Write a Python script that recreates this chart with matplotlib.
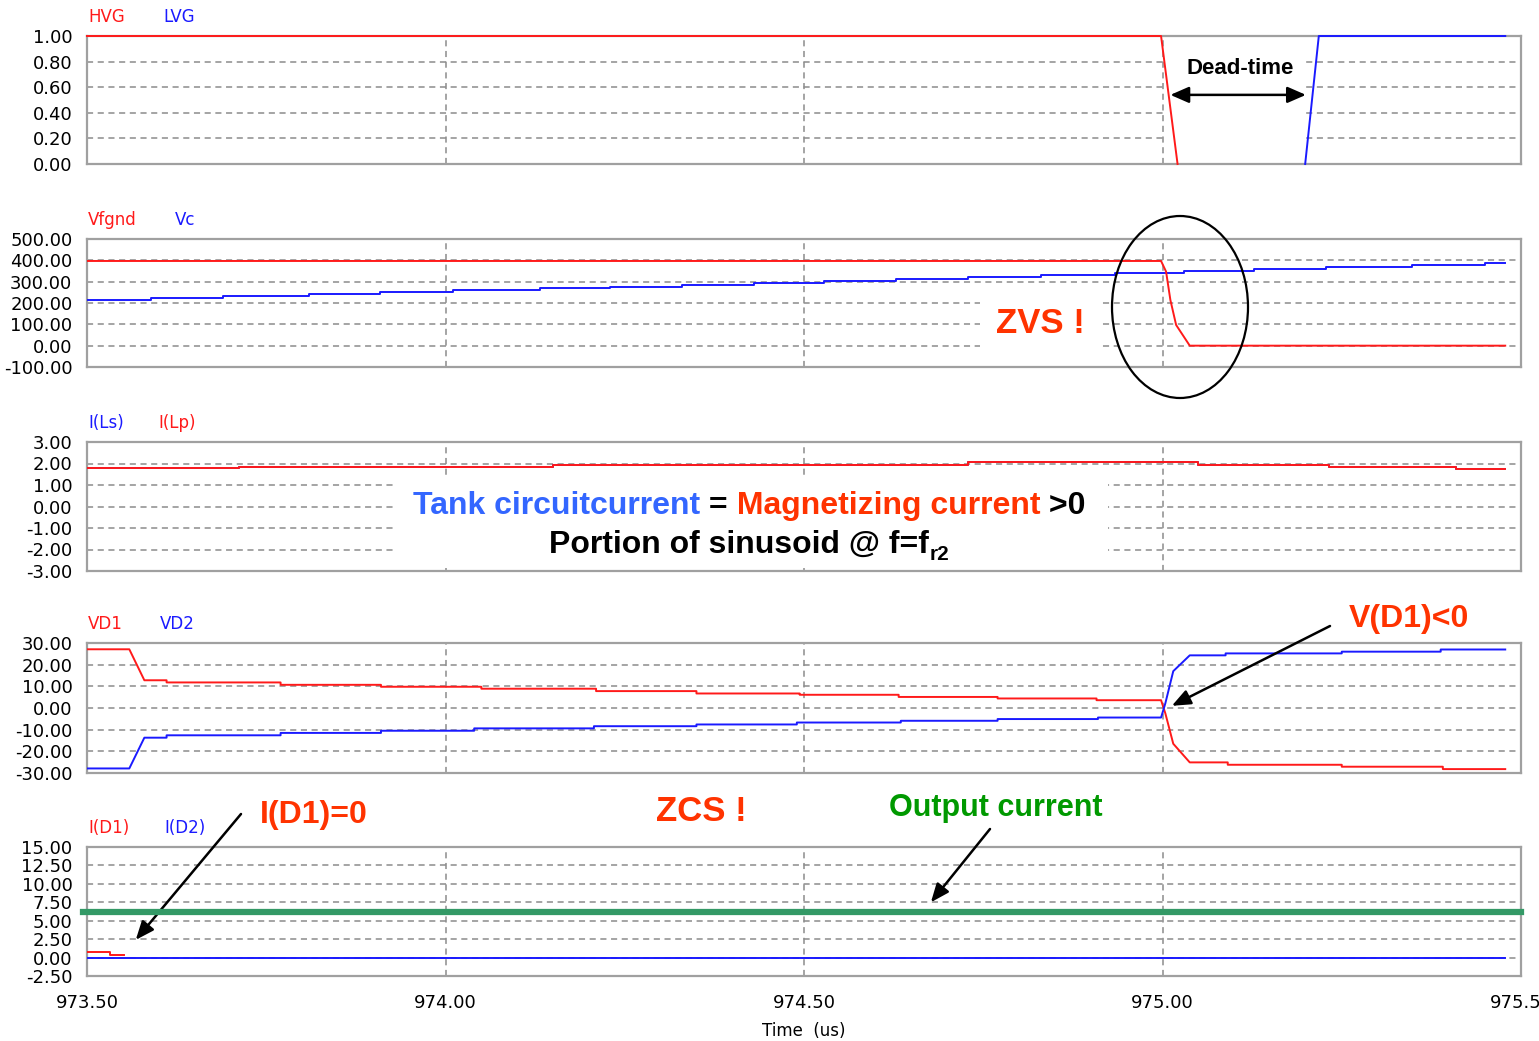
import matplotlib
matplotlib.use('Agg')
import matplotlib.pyplot as plt
from matplotlib.patches import Ellipse, Rectangle

W, H = 1539, 1041
RED = '#ff1a1a'
BLUE = '#1a1aff'
ORANGE = '#ff3300'

# ---- data (time in us) ----
t_hvg = [973.5, 974.998, 975.021]
hvg = [1.0, 1.0, 0.0]
t_lvg = [975.199, 975.218, 975.478]
lvg = [0.0, 1.0, 1.0]

t_vfgnd = [973.5, 974.998, 975.005, 975.011, 975.019, 975.038, 975.478]
vfgnd = [397, 397, 347, 214, 97, 0, 0]
t_vc = [973.5, 973.589, 973.689, 973.81, 973.909, 974.01, 974.132, 974.229, 974.33,
        974.43, 974.528, 974.628, 974.729, 974.83, 974.934, 975.03, 975.128, 975.228,
        975.348, 975.45, 975.478]
vc = [214, 223, 233, 242, 252, 259, 269, 276, 286, 295, 305, 314, 322, 331, 342,
      350, 358, 369, 378, 389, 389]

t_ilp = [973.5, 973.712, 974.15, 974.729, 975.05, 975.232, 975.41, 975.478]
ilp = [1.78, 1.85, 1.94, 2.05, 1.94, 1.85, 1.76, 1.76]
ils = ilp  # hidden under I(Lp)

t_vd1 = [973.5, 973.559, 973.58, 973.611, 973.611, 973.77, 973.77, 973.91, 973.91,
         974.05, 974.05, 974.21, 974.21, 974.35, 974.35, 974.494, 974.494, 974.632,
         974.632, 974.77, 974.77, 974.908, 974.908, 974.998, 975.004, 975.015, 975.038,
         975.091, 975.091, 975.25, 975.25, 975.391, 975.391, 975.478]
vd1 = [27.1, 27.1, 12.8, 12.8, 11.8, 11.8, 10.7, 10.7, 9.8, 9.8, 8.9, 8.9, 7.8, 7.8,
       6.7, 6.7, 6.1, 6.1, 5.1, 5.1, 4.4, 4.4, 3.6, 3.6, -2.5, -16.5, -25.1, -25.1,
       -26.2, -26.2, -27.1, -27.1, -28.2, -28.2]
t_vd2 = [973.5, 973.559, 973.58, 973.611, 973.611, 973.77, 973.77, 973.91, 973.91,
         974.04, 974.04, 974.207, 974.207, 974.35, 974.35, 974.49, 974.49, 974.635,
         974.635, 974.77, 974.77, 974.91, 974.91, 974.998, 975.004, 975.015, 975.038,
         975.088, 975.088, 975.25, 975.25, 975.388, 975.388, 975.478]
vd2 = [-27.9, -27.9, -13.7, -13.7, -12.6, -12.6, -11.5, -11.5, -10.5, -10.5, -9.4,
       -9.4, -8.4, -8.4, -7.6, -7.6, -6.7, -6.7, -5.9, -5.9, -5.1, -5.1, -4.4, -4.4,
       2.2, 17.0, 24.3, 24.3, 25.2, 25.2, 26.0, 26.0, 27.0, 27.0]

t_id1 = [973.5, 973.532, 973.532, 973.551]
id1 = [0.7, 0.7, 0.3, 0.3]
t_id2 = [973.5, 975.478]
id2 = [0.0, 0.0]
output_current = 6.2

x_ticks = [973.5, 974.0, 974.5, 975.0, 975.5]
panels = [
    # top px, bottom px, ylim, yticks, label names
    (36, 164, (0, 1), [0, 0.2, 0.4, 0.6, 0.8, 1.0], [('HVG', RED, 88), ('LVG', BLUE, 163)]),
    (239, 367, (-100, 500), [-100, 0, 100, 200, 300, 400, 500], [('Vfgnd', RED, 88), ('Vc', BLUE, 175)]),
    (442, 571, (-3, 3), [-3, -2, -1, 0, 1, 2, 3], [('I(Ls)', BLUE, 88), ('I(Lp)', RED, 158)]),
    (643, 773, (-30, 30), [-30, -20, -10, 0, 10, 20, 30], [('VD1', RED, 88), ('VD2', BLUE, 160)]),
    (847, 976, (-2.5, 15), [-2.5, 0, 2.5, 5, 7.5, 10, 12.5, 15], [('I(D1)', RED, 88), ('I(D2)', BLUE, 164)]),
]

plt.rcParams['font.family'] = ['DejaVu Sans']
fig = plt.figure(figsize=(W / 100, H / 100), dpi=100)
fig.patch.set_facecolor('white')


def fx(x):
    return x / W


def fy(y):
    return 1 - y / H


axes = []
for top, bot, ylim, yt, labels in panels:
    ax = fig.add_axes([fx(87), fy(bot), (1521 - 87) / W, (bot - top) / H])
    ax.set_xlim(973.5, 975.5)
    ax.set_ylim(*ylim)
    ax.set_xticks(x_ticks)
    ax.set_yticks(yt)
    ax.set_yticklabels(['%.2f' % v for v in yt])
    ax.tick_params(length=0, labelsize=13, pad=10.5)
    ax.tick_params(axis='x', pad=13)
    ax.grid(True, color='#8c8c8c', linestyle=(0, (4, 3)), linewidth=1.1)
    for s in ax.spines.values():
        s.set_color('#a0a0a0')
        s.set_linewidth(1.6)
    for name, col, xp in labels:
        fig.text(fx(xp), fy(top - 14), name, color=col, fontsize=12, va='baseline')
    axes.append(ax)

for ax in axes[:-1]:
    ax.set_xticklabels([])
axes[-1].set_xticklabels(['%.2f' % v for v in x_ticks])

ax1, ax2, ax3, ax4, ax5 = axes
lw = 1.4
ax1.plot(t_hvg, hvg, color=RED, lw=lw, zorder=3, clip_on=False)
ax1.plot(t_lvg, lvg, color=BLUE, lw=lw, zorder=3, clip_on=False)

ax2.plot(t_vc, vc, color=BLUE, lw=lw, drawstyle='steps-post', zorder=3)
ax2.plot(t_vfgnd, vfgnd, color=RED, lw=lw, zorder=3)

ax3.plot(t_ilp, ils, color=BLUE, lw=lw, drawstyle='steps-post', zorder=3)
ax3.plot(t_ilp, ilp, color=RED, lw=lw, drawstyle='steps-post', zorder=3)

ax4.plot(t_vd1, vd1, color=RED, lw=lw, zorder=3)
ax4.plot(t_vd2, vd2, color=BLUE, lw=lw, zorder=3)

ax5.plot(t_id1, id1, color=RED, lw=lw, zorder=3)
ax5.plot(t_id2, id2, color=BLUE, lw=lw, zorder=3)
ax5.axhline(output_current, xmin=-0.003, xmax=1.0, color='#339966', lw=4.5,
            zorder=4, clip_on=False)

# white boxes behind the annotation texts
for ax, (x0, y0, x1, y1) in [(ax1, (1166, 45, 1306, 156)),
                             (ax2, (980, 290, 1101, 358)),
                             (ax3, (393, 476, 1108, 568))]:
    ax.add_patch(Rectangle((fx(x0), fy(y1)), (x1 - x0) / W, (y1 - y0) / H,
                           transform=fig.transFigure, facecolor='white',
                           edgecolor='none', zorder=1.8))

fig.text(fx(804), fy(1036), 'Time  (us)', fontsize=12, ha='center', va='baseline')

# annotations
bold = dict(family=['Liberation Sans', 'DejaVu Sans'], fontweight='bold', va='baseline')
fig.text(fx(1240), fy(74), 'Dead-time', fontsize=16, ha='center', color='black', **bold)
ax1.annotate('', xy=(975.2, 0.54), xytext=(975.011, 0.54),
             arrowprops=dict(arrowstyle='<|-|>,head_length=0.8,head_width=0.35',
                             mutation_scale=14, lw=1.8, color='black',
                             shrinkA=0, shrinkB=0))

fig.add_artist(Ellipse((fx(1180), fy(307)), 136 / W, 182 / H, transform=fig.transFigure,
                       fill=False, edgecolor='black', lw=1.6, zorder=10))
fig.text(fx(1040), fy(333), 'ZVS !', fontsize=25, ha='center', color=ORANGE, **bold)

fig.text(fx(1409), fy(627), 'V(D1)<0', fontsize=23, ha='center', color=ORANGE, **bold)
fig.text(fx(314), fy(823), 'I(D1)=0', fontsize=23, ha='center', color=ORANGE, **bold)
fig.text(fx(701), fy(821), 'ZCS !', fontsize=25, ha='center', color=ORANGE, **bold)
fig.text(fx(996), fy(816), 'Output current', fontsize=22, ha='center', color='#009900', **bold)

arrow = dict(arrowstyle='-|>,head_length=0.8,head_width=0.33', mutation_scale=14,
             lw=1.8, color='black', shrinkA=0, shrinkB=0)
ax4.annotate('', xy=(975.013, 1.0), xytext=(1330, H - 626), textcoords='figure pixels',
             arrowprops=arrow, annotation_clip=False)
ax5.annotate('', xy=(973.568, 2.4), xytext=(241, H - 814), textcoords='figure pixels',
             arrowprops=arrow, annotation_clip=False)
ax5.annotate('', xy=(974.677, 7.5), xytext=(990, H - 829), textcoords='figure pixels',
             arrowprops=arrow, annotation_clip=False)

# multi-coloured note in the I(Ls)/I(Lp) panel
fig.canvas.draw()
r = fig.canvas.get_renderer()
x = 413
for s, c in [('Tank circuitcurrent', '#3366ff'), (' =', 'black'),
             (' Magnetizing current', ORANGE), (' >0', 'black')]:
    t = fig.text(fx(x), fy(514), s, fontsize=23, color=c, ha='left', zorder=6, **bold)
    x = t.get_window_extent(renderer=r).x1
t = fig.text(fx(549), fy(553), 'Portion of sinusoid @ f=f', fontsize=23, color='black',
             ha='left', zorder=6, **bold)
x = t.get_window_extent(renderer=r).x1
fig.text(fx(x + 1), fy(560), 'r2', fontsize=15, color='black', ha='left', zorder=6, **bold)

fig.savefig('out.png', dpi=100, facecolor='white')
